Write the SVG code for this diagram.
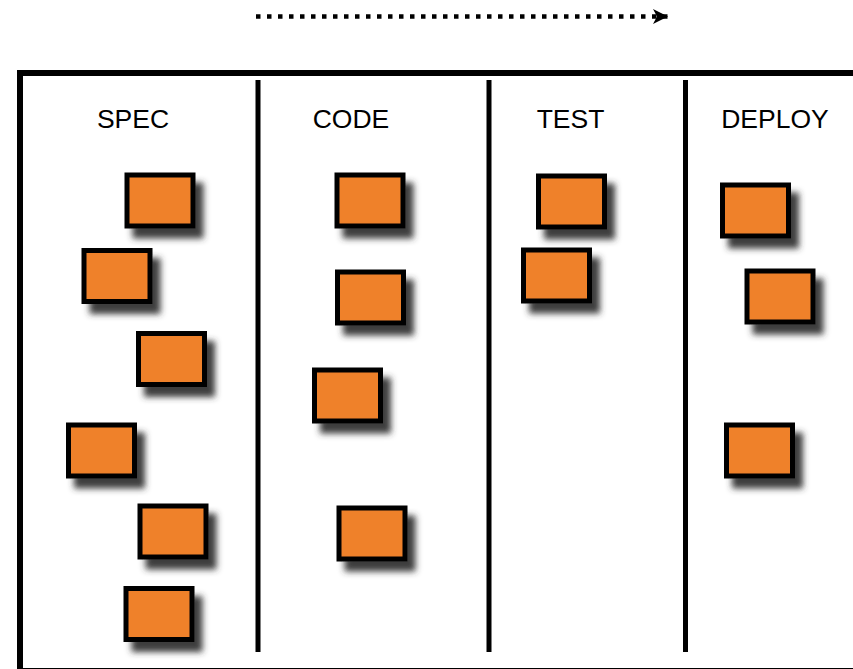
<svg xmlns="http://www.w3.org/2000/svg" width="853" height="669" viewBox="0 0 853 669">
<defs>
<style>
.card{fill:#ef812a;stroke:#000;stroke-width:5;filter:url(#sh)}
.lbl{font-family:"Liberation Sans",Arial,sans-serif;font-size:26.5px;fill:#000;text-anchor:middle}
.div{stroke:#000;stroke-width:5;fill:none}
</style>
<filter id="sh" x="-30%" y="-30%" width="170%" height="180%">
<feGaussianBlur in="SourceAlpha" stdDeviation="3.2" result="b"/>
<feOffset in="b" dx="8" dy="10" result="o"/>
<feFlood flood-color="#333" flood-opacity="0.95"/>
<feComposite in2="o" operator="in" result="s"/>
<feMerge><feMergeNode in="s"/><feMergeNode in="SourceGraphic"/></feMerge>
</filter>
<marker id="ah" markerWidth="16" markerHeight="16" refX="15" refY="8" orient="auto" markerUnits="userSpaceOnUse">
<path d="M15,8 L0,0.5 L4,8 L0,15.5 Z" fill="#000"/>
</marker>
</defs>
<rect width="853" height="669" fill="#fff"/>
<g id="board">
<rect x="20" y="73" width="840" height="598" fill="none" stroke="#000" stroke-width="6"/>
<line class="div" x1="258" y1="80" x2="258" y2="652"/>
<line class="div" x1="489" y1="80" x2="489" y2="652"/>
<line class="div" x1="685.5" y1="80" x2="685.5" y2="652"/>
</g>
<g id="labels">
<text id="spec" class="lbl" x="133" y="127.5">SPEC</text>
<text id="code" class="lbl" x="351" y="127.5">CODE</text>
<text id="test" class="lbl" x="570.5" y="127.5">TEST</text>
<text id="deploy" class="lbl" x="775" y="127.5">DEPLOY</text>
</g>
<g id="connectors">
<line x1="256" y1="16.5" x2="668" y2="16.5" stroke="#000" stroke-width="4.5" stroke-dasharray="4.5 6.5" marker-end="url(#ah)"/>
</g>
<g id="spec-cards">
<rect id="s1" class="card" x="127" y="175" width="66" height="51"/>
<rect id="s2" class="card" x="84" y="250.5" width="66" height="51"/>
<rect id="s3" class="card" x="138.5" y="333.5" width="66" height="51"/>
<rect id="s4" class="card" x="68.5" y="425" width="66" height="51"/>
<rect id="s5" class="card" x="140" y="506" width="66" height="51"/>
<rect id="s6" class="card" x="126" y="588.5" width="66" height="51"/>
</g>
<g id="code-cards">
<rect id="c1" class="card" x="337" y="175" width="66" height="51"/>
<rect id="c2" class="card" x="337.5" y="272" width="66" height="51"/>
<rect id="c3" class="card" x="314.5" y="370" width="66" height="51"/>
<rect id="c4" class="card" x="339" y="508" width="66" height="51"/>
</g>
<g id="test-cards">
<rect id="t1" class="card" x="538.5" y="176" width="66" height="51"/>
<rect id="t2" class="card" x="523.5" y="250" width="66" height="51"/>
</g>
<g id="deploy-cards">
<rect id="d1" class="card" x="722.5" y="185" width="66" height="51"/>
<rect id="d2" class="card" x="747" y="271" width="66" height="51"/>
<rect id="d3" class="card" x="726.5" y="425" width="66" height="51"/>
</g>
</svg>
